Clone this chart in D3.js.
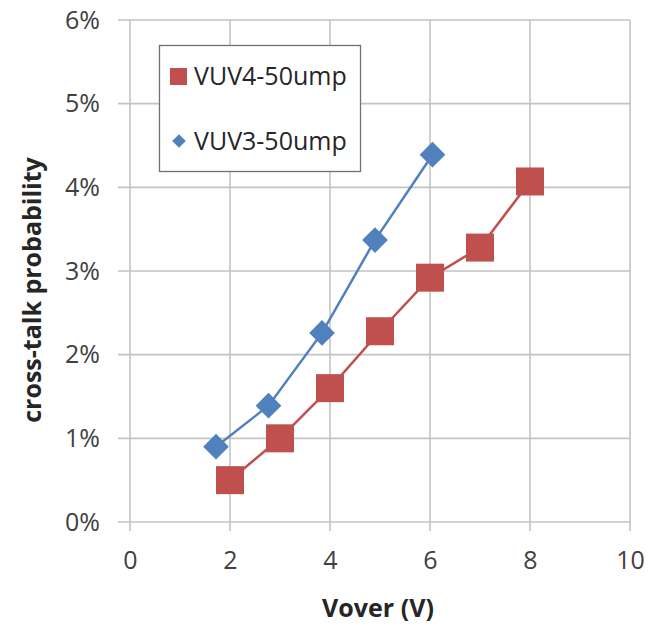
<!DOCTYPE html>
<html>
<head>
<meta charset="utf-8">
<script src="https://cdn.jsdelivr.net/npm/d3@7"></script>
<style>
  body { margin: 0; background: #fff; }
  svg { display: block; font-family: "Open Sans", sans-serif; }
</style>
</head>
<body>
<svg id="chart" width="656" height="626"></svg>
<script>
// data
const vuv4X = [2, 3, 4, 5, 6, 7, 8];
const vuv4Y = [0.0050, 0.0100, 0.0160, 0.0228, 0.0292, 0.0328, 0.0407];
const vuv3X = [1.72, 2.77, 3.84, 4.9, 6.05];
const vuv3Y = [0.0090, 0.0139, 0.0226, 0.0337, 0.0439];
const xTicks = [0, 2, 4, 6, 8, 10];
const yTicks = [0, 0.01, 0.02, 0.03, 0.04, 0.05, 0.06];
const seriesNames = ["VUV4-50ump", "VUV3-50ump"];

const svg = d3.select("#chart");
const margin = { left: 130, right: 26, top: 20, bottom: 104 };
const width = 656, height = 626;

const x = d3.scaleLinear().domain([0, 10]).range([margin.left, width - margin.right]);
const y = d3.scaleLinear().domain([0, 0.06]).range([height - margin.bottom, margin.top]);

const gridColor = "#c3c3c3";
const red = "#c0504d", blue = "#4f81bd";
const font = "'Open Sans', sans-serif";
const fs = 25;

// horizontal grid lines, sticking out left as tick marks
svg.append("g")
  .selectAll("line")
  .data(yTicks)
  .join("line")
  .attr("x1", x(0) - 12)
  .attr("x2", x(10))
  .attr("y1", d => y(d))
  .attr("y2", d => y(d))
  .attr("stroke", gridColor)
  .attr("stroke-width", 1.6);

// vertical grid lines, sticking out below
svg.append("g")
  .selectAll("line")
  .data(xTicks)
  .join("line")
  .attr("x1", d => x(d))
  .attr("x2", d => x(d))
  .attr("y1", y(0.06))
  .attr("y2", y(0) + 9)
  .attr("stroke", gridColor)
  .attr("stroke-width", 1.6);

// axis labels
const yAxis = svg.append("g")
  .attr("transform", `translate(${x(0) - 12},0)`)
  .call(d3.axisLeft(y).tickValues(yTicks).tickFormat(d3.format(".0%")).tickSize(0).tickPadding(18));
yAxis.select(".domain").remove();
yAxis.selectAll("text")
  .attr("font-size", fs)
  .attr("font-family", font)
  .attr("fill", "#404040");

const xAxis = svg.append("g")
  .attr("transform", `translate(0,${y(0)})`)
  .call(d3.axisBottom(x).tickValues(xTicks).tickFormat(d3.format("d")).tickSize(0).tickPadding(29));
xAxis.select(".domain").remove();
xAxis.selectAll("text")
  .attr("font-size", fs)
  .attr("font-family", font)
  .attr("fill", "#404040");

// titles
svg.append("text")
  .attr("x", 378)
  .attr("y", 617)
  .attr("text-anchor", "middle")
  .attr("font-size", fs)
  .attr("font-weight", "bold")
  .attr("fill", "#262626")
  .text("Vover (V)");

svg.append("text")
  .attr("transform", "translate(41,290) rotate(-90)")
  .attr("text-anchor", "middle")
  .attr("font-size", fs)
  .attr("font-weight", "bold")
  .attr("fill", "#262626")
  .text("cross-talk probability");

// lines
const line = d3.line().x(d => x(d[0])).y(d => y(d[1]));
const red4 = d3.zip(vuv4X, vuv4Y);
const blue3 = d3.zip(vuv3X, vuv3Y);

svg.append("path")
  .datum(red4)
  .attr("d", line)
  .attr("fill", "none")
  .attr("stroke", red)
  .attr("stroke-width", 2.5);

svg.append("path")
  .datum(blue3)
  .attr("d", line)
  .attr("fill", "none")
  .attr("stroke", blue)
  .attr("stroke-width", 2.5);

// markers
const sq = 28;
svg.append("g")
  .selectAll("rect")
  .data(red4)
  .join("rect")
  .attr("x", d => x(d[0]) - sq / 2)
  .attr("y", d => y(d[1]) - sq / 2)
  .attr("width", sq)
  .attr("height", sq)
  .attr("fill", red);

const diamond = d3.symbol().type(d3.symbolDiamond2).size(420);
svg.append("g")
  .selectAll("path")
  .data(blue3)
  .join("path")
  .attr("transform", d => `translate(${x(d[0])},${y(d[1])})`)
  .attr("d", diamond)
  .attr("fill", blue);

// legend
const legend = svg.append("g");
legend.append("rect")
  .attr("x", 159.5)
  .attr("y", 45.5)
  .attr("width", 201)
  .attr("height", 126)
  .attr("fill", "#fff")
  .attr("stroke", "#707070")
  .attr("stroke-width", 1.3);

legend.append("rect")
  .attr("x", 170)
  .attr("y", 68)
  .attr("width", 17)
  .attr("height", 17)
  .attr("fill", red);

legend.append("path")
  .attr("transform", "translate(179,141)")
  .attr("d", d3.symbol().type(d3.symbolDiamond2).size(120))
  .attr("fill", blue);

legend.selectAll("text")
  .data(seriesNames)
  .join("text")
  .attr("x", 194)
  .attr("y", (d, i) => i === 0 ? 85 : 150)
  .attr("font-size", fs)
  .attr("font-family", font)
  .attr("fill", "#262626")
  .text(d => d);
</script>
</body>
</html>
